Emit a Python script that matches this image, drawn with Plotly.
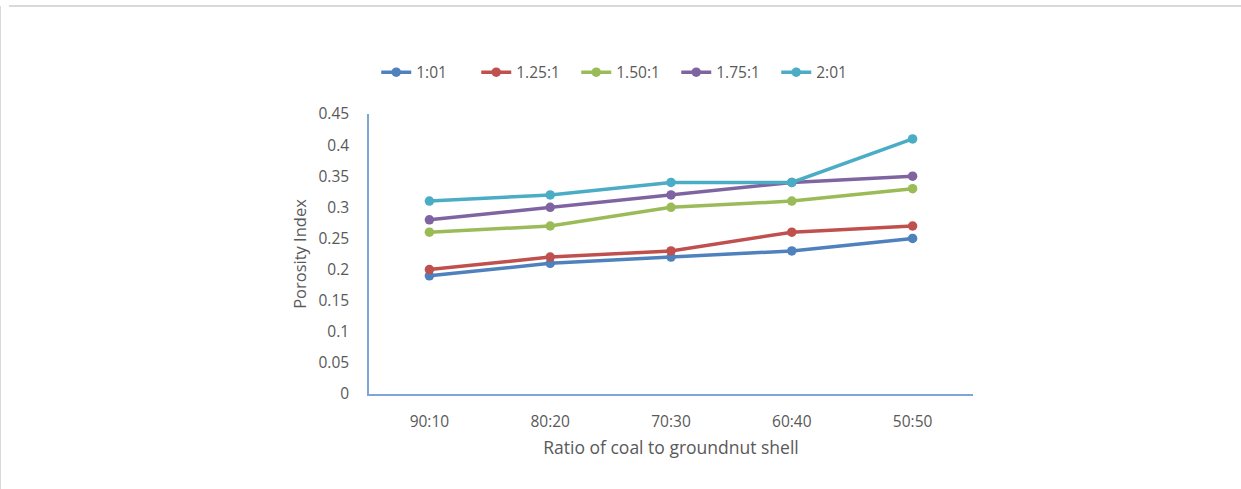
import plotly.graph_objects as go

ratios = ["90:10", "80:20", "70:30", "60:40", "50:50"]
series_names = ["1:01", "1.25:1", "1.50:1", "1.75:1", "2:01"]
s_1_01 = [0.19, 0.21, 0.22, 0.23, 0.25]
s_1_25 = [0.20, 0.22, 0.23, 0.26, 0.27]
s_1_50 = [0.26, 0.27, 0.30, 0.31, 0.33]
s_1_75 = [0.28, 0.30, 0.32, 0.34, 0.35]
s_2_01 = [0.31, 0.32, 0.34, 0.34, 0.41]
y_ticks = [0, 0.05, 0.1, 0.15, 0.2, 0.25, 0.3, 0.35, 0.4, 0.45]

colors = ["#4F81BD", "#C0504D", "#9BBB59", "#8064A2", "#4BACC6"]
all_series = [s_1_01, s_1_25, s_1_50, s_1_75, s_2_01]

FONT = "Open Sans"
TXT = "#595959"
TICK_SIZE = 15.5

fig = go.Figure()
for name, vals, col in zip(series_names, all_series, colors):
    fig.add_trace(go.Scatter(
        x=ratios, y=vals, name=name, mode="lines+markers",
        line=dict(color=col, width=3.5),
        marker=dict(color=col, size=9.5),
    ))

fig.update_layout(
    width=1241, height=489,
    margin=dict(l=369, r=268, t=114, b=95, autoexpand=False),
    paper_bgcolor="white", plot_bgcolor="white",
    font=dict(family=FONT, size=TICK_SIZE, color=TXT),
    showlegend=True,
    legend=dict(
        orientation="h", x=0.012, y=1.148, xanchor="left", yanchor="middle",
        font=dict(family=FONT, size=TICK_SIZE, color=TXT),
        bgcolor="rgba(0,0,0,0)", itemwidth=30, tracegroupgap=0,
        entrywidth=55, entrywidthmode="pixels",
    ),
    xaxis=dict(
        type="category", range=[-0.5, 4.5], showgrid=False, zeroline=False,
        showline=True, linecolor="#7FA4DA", linewidth=1.5,
        ticks="", ticklabelstandoff=13,
        tickfont=dict(family=FONT, size=TICK_SIZE, color=TXT),
        title=dict(text="Ratio of coal to groundnut shell", standoff=10,
                   font=dict(family=FONT, size=17.5, color=TXT)),
    ),
    yaxis=dict(
        range=[0, 0.45], tickvals=y_ticks,
        ticktext=[f"{v:g}" for v in y_ticks],
        showgrid=False, zeroline=False,
        showline=True, linecolor="#7FA4DA", linewidth=1.5,
        ticks="", ticklabelstandoff=15,
        tickfont=dict(family=FONT, size=TICK_SIZE, color=TXT),
        title=dict(text="Porosity Index", standoff=8,
                   font=dict(family=FONT, size=16.5, color=TXT)),
    ),
    shapes=[
        dict(type="line", xref="paper", yref="paper", layer="below",
             x0=-369 / 604, x1=-369 / 604, y0=-95 / 280, y1=(280 + 114 - 6) / 280,
             line=dict(color="#D9D9D9", width=2)),
        dict(type="line", xref="paper", yref="paper", layer="below",
             x0=-360 / 604, x1=(604 + 268) / 604, y0=(280 + 114 - 6) / 280,
             y1=(280 + 114 - 6) / 280,
             line=dict(color="#D9D9D9", width=2)),
    ],
)

fig.write_html("out.html")
